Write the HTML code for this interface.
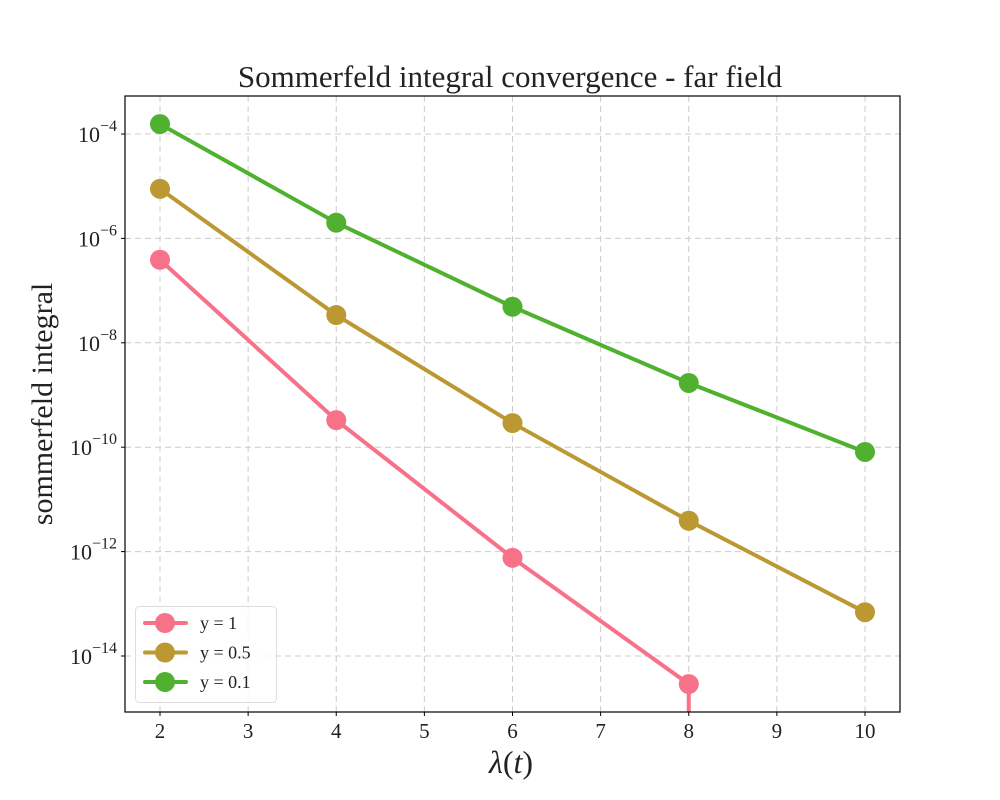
<!DOCTYPE html>
<html><head><meta charset="utf-8"><style>
html,body{margin:0;padding:0;background:#fff;overflow:hidden;width:1000px;height:800px}
svg{display:block}
svg text{font-family:"Liberation Serif","DejaVu Serif",serif;fill:#222}
</style></head><body>
<svg id="chart" width="1000" height="800" xmlns="http://www.w3.org/2000/svg">
<rect width="1000" height="800" fill="#fff"/>
<text x="510" y="87" font-size="31" text-anchor="middle">Sommerfeld integral convergence - far field</text>
<text transform="translate(52,404) rotate(-90)" font-size="30" text-anchor="middle">sommerfeld integral</text>
<text x="511" y="773" font-size="32" text-anchor="middle"><tspan font-style="italic">λ</tspan>(<tspan font-style="italic">t</tspan>)</text>
<g id="grid"></g><g id="ticks"></g>
<defs><clipPath id="pc"><rect x="125" y="96" width="775" height="616"/></clipPath></defs>
<g id="series" clip-path="url(#pc)"></g>
<rect x="125" y="96" width="775" height="616" fill="none" stroke="#000" stroke-width="1.2"/>
<g id="legend"></g>
</svg>
<script>
const xs=[2,4,6,8,10];
const seriesNames=["y = 1","y = 0.5","y = 0.1"];
const s1=[3.9e-7,3.3e-10,7.6e-13,2.9e-15,0];
const s2=[8.9e-6,3.4e-8,2.9e-10,3.9e-12,6.9e-14];
const s3=[1.55e-4,2e-6,4.9e-8,1.7e-9,8.1e-11];
const xTicks=[2,3,4,5,6,7,8,9,10];
const yTickExps=[-4,-6,-8,-10,-12,-14];
const colors=["#f77189","#bb9832","#50b131"];
const NS="http://www.w3.org/2000/svg";
function X(v){return 160+(v-2)*88.125;}
function Y(v){return 134+(-4-Math.log10(v))*52.2;}
function mk(tag,attrs,parent){const e=document.createElementNS(NS,tag);for(const k in attrs)e.setAttribute(k,attrs[k]);parent.appendChild(e);return e;}
const grid=document.getElementById('grid'),ticks=document.getElementById('ticks');
xTicks.forEach(t=>{
 const g=mk('line',{x1:X(t),x2:X(t),y1:96,y2:712,stroke:'#ccc','stroke-dasharray':'6,4','stroke-width':1},grid);
 
 
 const tk=mk('line',{x1:X(t),x2:X(t),y1:712,y2:716,stroke:'#000'},ticks);
 
 
 const tx=mk('text',{x:X(t),y:738,'font-size':21,'text-anchor':'middle'},ticks);
 tx.textContent=t;
 
 
});
yTickExps.forEach(e=>{
 const y=Y(Math.pow(10,e));
 const g=mk('line',{x1:125,x2:900,y1:y,y2:y,stroke:'#ccc','stroke-dasharray':'6,4','stroke-width':1},grid);
 
 
 const tk=mk('line',{x1:121,x2:125,y1:y,y2:y,stroke:'#000'},ticks);
 
 
 const tx=mk('text',{x:117,y:y+8,'font-size':22,'text-anchor':'end'},ticks);
 tx.innerHTML='10<tspan dy="-11" font-size="16">'+'−'+(-e)+'</tspan>';
 
 
});
const ser=document.getElementById('series');
[s1,s2,s3].forEach((arr,i)=>{
 const p=[];
 for(let j=0;j<arr.length;j++){
  if(arr[j]>0){p.push(X(xs[j])+','+Y(arr[j]));}
  else{ if(j>0) p.push(X(xs[j-1])+',720'); break; }
 }
 const pl=mk('polyline',{points:p.join(' '),fill:'none',stroke:colors[i],'stroke-width':4,'stroke-linejoin':'round'},ser);
 
 
 arr.forEach((v,j)=>{if(v<=0)return;
  const c=mk('circle',{cx:X(xs[j]),cy:Y(v),r:10,fill:colors[i]},ser);
  
  
 });
});
const lg=document.getElementById('legend');
mk('rect',{x:135.5,y:606.5,width:141,height:96,rx:4,fill:'#fff','fill-opacity':0.8,stroke:'#ddd'},lg);
seriesNames.forEach((n,i)=>{
 const y=623+i*29.5;
 const l=mk('line',{x1:145,x2:186,y1:y,y2:y,stroke:colors[i],'stroke-width':4,'stroke-linecap':'round'},lg);
 
 
 const c=mk('circle',{cx:165,cy:y,r:10,fill:colors[i]},lg);
 
 
 const t=mk('text',{x:200,y:y+6,'font-size':18},lg);
 t.textContent=n;
 
 
});
</script>
</body></html>
